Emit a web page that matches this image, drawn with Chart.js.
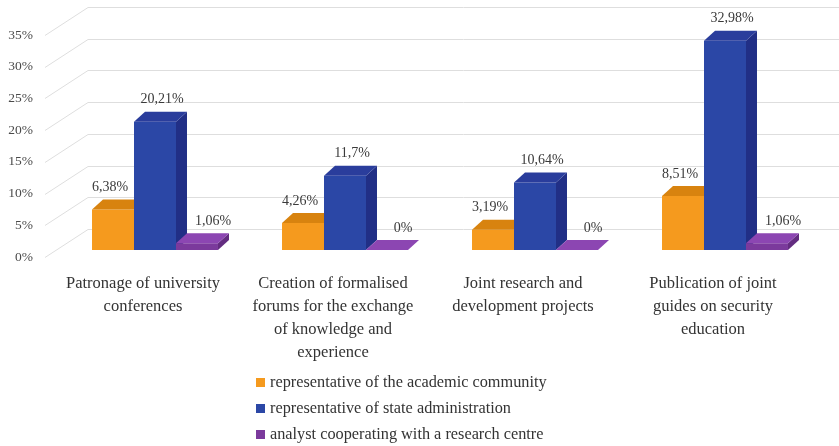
<!DOCTYPE html>
<html>
<head>
<meta charset="utf-8">
<script src="https://cdn.jsdelivr.net/npm/chart.js@4.4.0/dist/chart.umd.min.js"></script>
<style>
  html, body { margin: 0; padding: 0; background: #fff; }
  #wrap { position: relative; width: 839px; height: 446px; }
  .chart-legend {
    position: absolute; left: 256px; top: 369px; margin: 0; padding: 0;
    list-style: none; font-family: "Liberation Serif", serif; font-size: 16.3px; color: #333;
  }
  .chart-legend li { height: 26px; line-height: 26px; white-space: nowrap; }
  .chart-legend .box { display: inline-block; width: 9px; height: 9px; margin-right: 5px; }
</style>
</head>
<body>
<div id="wrap">
  <canvas id="bars" width="839" height="446"></canvas>
  <ul class="chart-legend" id="bars_legend"></ul>
</div>
<script>
const categories = [
  ["Patronage of university", "conferences"],
  ["Creation of formalised", "forums for the exchange", "of knowledge and", "experience"],
  ["Joint research and", "development projects"],
  ["Publication of joint", "guides on security", "education"]
];
const seriesNames = [
  "representative of the academic community",
  "representative of state administration",
  "analyst cooperating with a research centre"
];
const academic = [6.38, 4.26, 3.19, 8.51];
const stateAdmin = [20.21, 11.7, 10.64, 32.98];
const analyst = [1.06, 0, 0, 1.06];
const yTicks = [0, 5, 10, 15, 20, 25, 30, 35];

// front / top / side shades for each series
const shades = [
  {front: "#f59a1e", top: "#d8830f", side: "#c9740a"},
  {front: "#2b47a6", top: "#2a3d9c", side: "#212f86"},
  {front: "#7b3a9c", top: "#8c46b2", side: "#632c80"}
];

const FONT = "'Liberation Serif', 'Times New Roman', serif";
const bar3d = {fx: 12, fy: -7, dx: 11, dy: -10};   // bar front shift and box depth
const wall = {dx: 43, dy: -28};                      // back wall shift
const labelShift = [-3, 7, 16];

function pct(v) {
  return String(v).replace(".", ",") + "%";
}

const wallPlugin = {
  id: "wall",
  beforeDatasetsDraw(chart) {
    const ctx = chart.ctx;
    const y = chart.scales.y;
    const x0 = chart.chartArea.left - 3;
    ctx.save();
    ctx.strokeStyle = "#dedede";
    ctx.lineWidth = 1;
    yTicks.forEach(t => {
      const py = Math.round(y.getPixelForValue(t)) + 0.5;
      ctx.beginPath();
      ctx.moveTo(x0, py);
      ctx.lineTo(x0 + wall.dx, py + wall.dy);
      ctx.lineTo(chart.width, py + wall.dy);
      ctx.stroke();
    });
    ctx.restore();
  }
};

function poly(ctx, pts, color) {
  ctx.fillStyle = color;
  ctx.beginPath();
  ctx.moveTo(pts[0][0], pts[0][1]);
  for (let i = 1; i < pts.length; i++) { ctx.lineTo(pts[i][0], pts[i][1]); }
  ctx.closePath();
  ctx.fill();
}

const boxPlugin = {
  id: "boxes",
  afterDatasetsDraw(chart) {
    const ctx = chart.ctx;
    const metas = chart.data.datasets.map((d, i) => chart.getDatasetMeta(i));
    ctx.save();
    for (let i = 0; i < categories.length; i++) {
      metas.forEach((meta, s) => {
        const bar = meta.data[i];
        const l = bar.x - bar.width / 2 + bar3d.fx;
        const r = bar.x + bar.width / 2 + bar3d.fx;
        const top = bar.y + bar3d.fy;
        const bot = bar.base + bar3d.fy;
        const c = shades[s];
        poly(ctx, [[l, top], [r, top], [r, bot], [l, bot]], c.front);
        poly(ctx, [[r, top], [r + bar3d.dx, top + bar3d.dy], [r + bar3d.dx, bot + bar3d.dy], [r, bot]], c.side);
        poly(ctx, [[l, top], [l + bar3d.dx, top + bar3d.dy], [r + bar3d.dx, top + bar3d.dy], [r, top]], c.top);
      });
    }
    // value labels
    ctx.font = "14px " + FONT;
    ctx.fillStyle = "#3a3a3a";
    ctx.textAlign = "center";
    ctx.textBaseline = "middle";
    metas.forEach((meta, s) => {
      const values = chart.data.datasets[s].data;
      meta.data.forEach((bar, i) => {
        ctx.fillText(pct(values[i]), bar.x + bar3d.fx + labelShift[s], bar.y + bar3d.fy - 22);
      });
    });
    ctx.restore();
  }
};

function buildLegend() {
  const ul = document.getElementById("bars_legend");
  seriesNames.forEach((name, s) => {
    ul.innerHTML += `<li><span class="box" style="background:${shades[s].front}"></span>${name}</li>`;
  });
}

const chart = new Chart(document.getElementById("bars"), {
  type: "bar",
  data: {
    labels: categories,
    datasets: [
      {label: seriesNames[0], data: academic},
      {label: seriesNames[1], data: stateAdmin},
      {label: seriesNames[2], data: analyst}
    ].map(d => Object.assign(d, {backgroundColor: "rgba(0,0,0,0)", borderWidth: 0}))
  },
  plugins: [wallPlugin, boxPlugin],
  options: {
    responsive: false,
    animation: false,
    events: [],
    datasets: {bar: {barPercentage: 1, categoryPercentage: 0.663}},
    layout: {padding: {top: 35, right: 31, left: 0, bottom: 0}},
    plugins: {legend: {display: false}, tooltip: {enabled: false}},
    scales: {
      x: {
        grid: {display: false, drawTicks: false},
        border: {display: false},
        afterFit(s) { s.height = 189; },
        ticks: {
          autoSkip: false, maxRotation: 0, padding: 15,
          color: "#333",
          font: {family: FONT, size: 16.5, lineHeight: 1.4}
        }
      },
      y: {
        min: 0, max: 35,
        grid: {display: false, drawTicks: false},
        border: {display: false},
        afterFit(s) { s.width = 48; },
        afterBuildTicks(s) { s.ticks = yTicks.map(v => ({value: v})); },
        ticks: {
          padding: 15,
          color: "#4a4a4a",
          font: {family: FONT, size: 13.5},
          callback: v => v + "%"
        }
      }
    }
  }
});
buildLegend();
</script>
</body>
</html>
